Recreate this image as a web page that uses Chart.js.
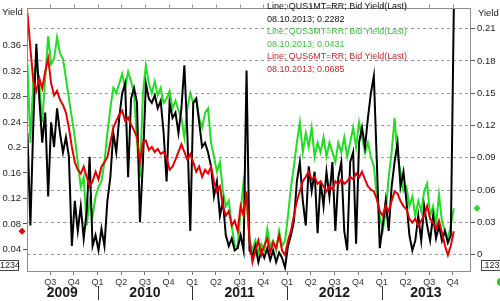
<!DOCTYPE html>
<html>
<head>
<meta charset="utf-8">
<script src="https://cdn.jsdelivr.net/npm/chart.js@4.4.0/dist/chart.umd.min.js"></script>
<style>
  html, body { margin: 0; padding: 0; background: #fff; }
  canvas { display: block; }
</style>
</head>
<body>
<canvas id="yieldChart" width="500" height="301"></canvas>
<script>
// sampling grid in fractional years: one reading every 1/32 year
const sampleStart = 2009.26;
const sampleStep = 1 / 32;
const lastDate = '08.10.2013';

// x axis: quarter ticks and year bands
const quarterTicks = [2009.5, 2009.75, 2010, 2010.25, 2010.5, 2010.75, 2011, 2011.25, 2011.5, 2011.75,
    2012, 2012.25, 2012.5, 2012.75, 2013, 2013.25, 2013.5, 2013.75];
const quarterLabels = ['Q3', 'Q4', 'Q1', 'Q2', 'Q3', 'Q4', 'Q1', 'Q2', 'Q3', 'Q4',
    'Q1', 'Q2', 'Q3', 'Q4', 'Q1', 'Q2', 'Q3', 'Q4'];
const years = [2009, 2010, 2011, 2012, 2013];

// y axes ticks
const leftTicks = [0.04, 0.08, 0.12, 0.16, 0.2, 0.24, 0.28, 0.32, 0.36];
const rightTicks = [0, 0.03, 0.06, 0.09, 0.12, 0.15, 0.18, 0.21];

// QUS1MT=RR (right axis)
const bill1m = [
    0.113, 0.027, 0.123, 0.196, 0.145, 0.104, 0.132, 0.054, 0.123, 0.100,
    0.136, 0.113, 0.095, 0.109, 0.091, 0.008, 0.050, 0.022, 0.045, 0.015,
    0.040, 0.091, 0.008, 0.018, 0.004, 0.024, 0.008, 0.050, 0.072, 0.113,
    0.095, 0.127, 0.150, 0.159, 0.072, 0.145, 0.155, 0.141, 0.030, 0.086,
    0.159, 0.145, 0.141, 0.148, 0.136, 0.143, 0.113, 0.068, 0.141, 0.127,
    0.132, 0.113, 0.136, 0.176, 0.113, 0.022, 0.141, 0.145, 0.123, 0.100,
    0.104, 0.095, 0.082, 0.054, 0.068, 0.036, 0.050, 0.018, 0.008, 0.015,
    0.004, 0.006, 0.018, 0.004, 0.171, 0.004, -0.001, 0.008, -0.007, 0.004,
    -0.003, 0.006, -0.005, 0.004, -0.007, 0.002, -0.003, -0.012, 0.008, 0.018,
    0.031, 0.068, 0.086, 0.050, 0.027, 0.082, 0.059, 0.077, 0.020, 0.068,
    0.045, 0.077, 0.054, 0.086, 0.022, 0.072, 0.086, 0.022, 0.004, 0.086,
    0.095, 0.010, 0.104, 0.118, 0.100, 0.127, 0.150, 0.166, 0.086, 0.006,
    0.027, 0.050, 0.022, 0.063, 0.086, 0.104, 0.063, 0.077, 0.050, 0.018,
    0.004, 0.013, 0.036, 0.013, 0.045, 0.027, 0.013, 0.036, 0.015, 0.027,
    0.013, 0.022, 0.011, 0.018, 0.2282
];

// QUS3MT=RR (right axis)
const bill3m = [
    0.177, 0.104, 0.164, 0.177, 0.159, 0.123, 0.164, 0.203, 0.177, 0.182,
    0.202, 0.187, 0.182, 0.164, 0.145, 0.127, 0.109, 0.086, 0.063, 0.072,
    0.027, 0.050, 0.036, 0.054, 0.063, 0.068, 0.086, 0.113, 0.136, 0.155,
    0.150, 0.159, 0.168, 0.155, 0.170, 0.161, 0.150, 0.104, 0.072, 0.150,
    0.176, 0.159, 0.150, 0.161, 0.148, 0.155, 0.141, 0.145, 0.152, 0.136,
    0.143, 0.134, 0.127, 0.109, 0.136, 0.150, 0.141, 0.145, 0.127, 0.118,
    0.132, 0.136, 0.104, 0.091, 0.077, 0.086, 0.059, 0.045, 0.050, 0.027,
    0.008, 0.007, 0.040, 0.068, 0.050, 0.013, 0.004, 0.013, 0.002, 0.010,
    0.004, 0.024, 0.008, 0.013, 0.004, 0.022, 0.008, 0.013, 0.036, 0.063,
    0.082, 0.104, 0.123, 0.095, 0.113, 0.100, 0.118, 0.091, 0.104, 0.095,
    0.109, 0.091, 0.104, 0.095, 0.086, 0.104, 0.095, 0.109, 0.091, 0.104,
    0.118, 0.100, 0.123, 0.109, 0.095, 0.104, 0.091, 0.082, 0.054, 0.036,
    0.022, 0.040, 0.072, 0.095, 0.127, 0.091, 0.077, 0.059, 0.063, 0.045,
    0.054, 0.036, 0.050, 0.040, 0.059, 0.066, 0.036, 0.045, 0.027, 0.056,
    0.031, 0.022, 0.015, 0.027, 0.0431
];

// QUS6MT=RR (left axis)
const bill6m = [
    0.412, 0.355, 0.304, 0.289, 0.309, 0.293, 0.319, 0.340, 0.301, 0.282,
    0.289, 0.275, 0.267, 0.255, 0.231, 0.201, 0.177, 0.165, 0.159, 0.170,
    0.154, 0.139, 0.147, 0.162, 0.150, 0.170, 0.177, 0.185, 0.208, 0.231,
    0.242, 0.252, 0.258, 0.242, 0.247, 0.236, 0.227, 0.216, 0.177, 0.208,
    0.211, 0.196, 0.201, 0.193, 0.198, 0.190, 0.193, 0.184, 0.165, 0.170,
    0.181, 0.193, 0.205, 0.193, 0.181, 0.190, 0.177, 0.162, 0.170, 0.154,
    0.165, 0.159, 0.170, 0.147, 0.131, 0.139, 0.108, 0.093, 0.100, 0.077,
    0.085, 0.069, 0.108, 0.093, 0.131, 0.054, 0.020, 0.038, 0.054, 0.031,
    0.046, 0.057, 0.035, 0.051, 0.042, 0.062, 0.038, 0.031, 0.054, 0.069,
    0.093, 0.116, 0.131, 0.147, 0.154, 0.162, 0.150, 0.154, 0.143, 0.147,
    0.139, 0.131, 0.139, 0.134, 0.147, 0.142, 0.150, 0.143, 0.147, 0.154,
    0.150, 0.159, 0.153, 0.162, 0.150, 0.139, 0.134, 0.131, 0.119, 0.100,
    0.093, 0.108, 0.100, 0.116, 0.131, 0.128, 0.116, 0.108, 0.103, 0.088,
    0.082, 0.088, 0.077, 0.085, 0.093, 0.108, 0.088, 0.082, 0.072, 0.085,
    0.066, 0.046, 0.031, 0.046, 0.0685
];

const series = [
    { ric: 'QUS1MT=RR', values: bill1m, line: '#000000', text: '#111111' },
    { ric: 'QUS3MT=RR', values: bill3m, line: '#22dd22', text: '#3cc43c' },
    { ric: 'QUS6MT=RR', values: bill6m, line: '#e80000', text: '#c42a2a' }
];

const toPoints = arr => arr.map((v, i) => ({ x: sampleStart + i * sampleStep, y: v }));
const fmt = v => String(+v.toFixed(2));
const FONT = '"Liberation Sans", Arial, sans-serif';

function diamond(ctx, x, y, r, color) {
    ctx.fillStyle = color;
    ctx.beginPath();
    ctx.moveTo(x, y - r);
    ctx.lineTo(x + r, y);
    ctx.lineTo(x, y + r);
    ctx.lineTo(x - r, y);
    ctx.closePath();
    ctx.fill();
}

// frame, year band, titles, last-value text and markers
const decorPlugin = {
    id: 'decor',
    afterDraw(chart) {
        const { ctx, chartArea: a, scales } = chart;
        const x = scales.x, yL = scales.yL, yR = scales.yR;
        ctx.save();

        ctx.strokeStyle = '#8c8c8c';
        ctx.lineWidth = 1;
        ctx.strokeRect(Math.round(a.left) + 0.5, Math.round(a.top) + 0.5,
            Math.round(a.right - a.left), Math.round(a.bottom - a.top));

        // small quarter ticks on the top edge
        ctx.beginPath();
        quarterTicks.forEach(q => {
            const px = Math.round(x.getPixelForValue(q)) + 0.5;
            ctx.moveTo(px, a.top - 3);
            ctx.lineTo(px, a.top);
        });
        ctx.stroke();

        // years with separators
        ctx.font = 'bold 14px ' + FONT;
        ctx.fillStyle = '#1a1a1a';
        ctx.textAlign = 'center';
        ctx.textBaseline = 'middle';
        ctx.strokeStyle = '#333';
        years.forEach(yr => {
            const from = Math.max(yr, x.min), to = Math.min(yr + 1, x.max);
            const mid = (x.getPixelForValue(from) + x.getPixelForValue(to)) / 2;
            ctx.fillText(String(yr), mid, a.bottom + 22);
            if (yr > x.min) {
                const px = Math.round(x.getPixelForValue(yr)) + 0.5;
                ctx.beginPath();
                ctx.moveTo(px, a.bottom + 15);
                ctx.lineTo(px, a.bottom + 29);
                ctx.stroke();
            }
        });

        // axis titles
        ctx.font = '9.5px ' + FONT;
        ctx.fillStyle = '#222';
        ctx.textAlign = 'left';
        ctx.fillText('Yield', 2, a.top + 5);
        ctx.fillText('Yield', a.right + 8, a.top + 6);

        // last values text block
        ctx.font = '9px ' + FONT;
        let ty = 7;
        series.forEach(s => {
            ctx.fillStyle = s.text;
            ctx.fillText('Line; ' + s.ric + '; Bid Yield(Last)', 267, ty, 140);
            ctx.fillText(lastDate + '; ' + s.values[s.values.length - 1], 267, ty + 12.5);
            ty += 25;
        });

        // last value markers
        diamond(ctx, a.left - 5, yL.getPixelForValue(bill6m[bill6m.length - 1]), 3.5, '#e80000');
        diamond(ctx, a.right + 7, yR.getPixelForValue(bill3m[bill3m.length - 1]), 3.5, '#22dd22');

        // value boxes
        ctx.strokeStyle = '#444';
        ctx.fillStyle = '#222';
        ctx.font = '9px ' + FONT;
        ctx.strokeRect(-4.5, a.bottom - 10.5, Math.round(a.left) - 4, 10);
        ctx.textAlign = 'right';
        ctx.fillText('0.1234', Math.round(a.left) - 7, a.bottom - 5);
        ctx.strokeRect(Math.round(a.right) + 11.5, a.bottom - 10.5, 30, 10);
        ctx.textAlign = 'left';
        ctx.fillText('.1234', Math.round(a.right) + 12, a.bottom - 5);

        ctx.fillStyle = '#22cc22';
        ctx.beginPath();
        ctx.arc(chart.width + 1, a.bottom + 11, 4, 0, Math.PI * 2);
        ctx.fill();

        ctx.restore();
    }
};

new Chart(document.getElementById('yieldChart'), {
    type: 'line',
    data: {
        datasets: [
            { label: series[2].ric, data: toPoints(bill6m), yAxisID: 'yL', borderColor: series[2].line, borderWidth: 2, order: 0 },
            { label: series[0].ric, data: toPoints(bill1m), yAxisID: 'yR', borderColor: series[0].line, borderWidth: 2, order: 1 },
            { label: series[1].ric, data: toPoints(bill3m), yAxisID: 'yR', borderColor: series[1].line, borderWidth: 2, order: 2 }
        ]
    },
    options: {
        responsive: false,
        animation: false,
        devicePixelRatio: 1,
        elements: { point: { radius: 0 }, line: { tension: 0, fill: false } },
        layout: { padding: { top: 3, left: 0, right: 0, bottom: 0 } },
        plugins: { legend: { display: false }, tooltip: { enabled: false } },
        scales: {
            x: {
                type: 'linear',
                min: 2009.2553,
                max: 2013.931,
                afterBuildTicks: s => { s.ticks = quarterTicks.map(v => ({ value: v })); },
                afterFit: s => { s.height = 30; },
                border: { display: false },
                grid: { display: true, drawOnChartArea: false, tickLength: 4, tickColor: '#777' },
                ticks: {
                    autoSkip: false, maxRotation: 0, padding: 2,
                    color: '#333', font: { family: FONT, size: 9 },
                    callback: v => quarterLabels[quarterTicks.indexOf(v)]
                }
            },
            yL: {
                position: 'left',
                min: 0.006,
                max: 0.4197,
                afterBuildTicks: s => { s.ticks = leftTicks.map(v => ({ value: v })); },
                afterFit: s => { s.width = 27; },
                border: { display: false },
                grid: { display: true, drawOnChartArea: false, tickLength: 4, tickColor: '#555' },
                ticks: { padding: 2, color: '#222', font: { family: FONT, size: 9.5 }, callback: fmt }
            },
            yR: {
                position: 'right',
                min: -0.01525,
                max: 0.2295,
                afterBuildTicks: s => { s.ticks = rightTicks.map(v => ({ value: v })); },
                afterFit: s => { s.width = 30; },
                border: { display: false, dash: [3, 3] },
                grid: { display: true, drawOnChartArea: true, color: '#9a9a9a', tickLength: 5, tickColor: '#555', tickBorderDash: [] },
                ticks: { padding: 2, color: '#222', font: { family: FONT, size: 9.5 }, callback: fmt }
            }
        }
    },
    plugins: [decorPlugin]
});
</script>
</body>
</html>
